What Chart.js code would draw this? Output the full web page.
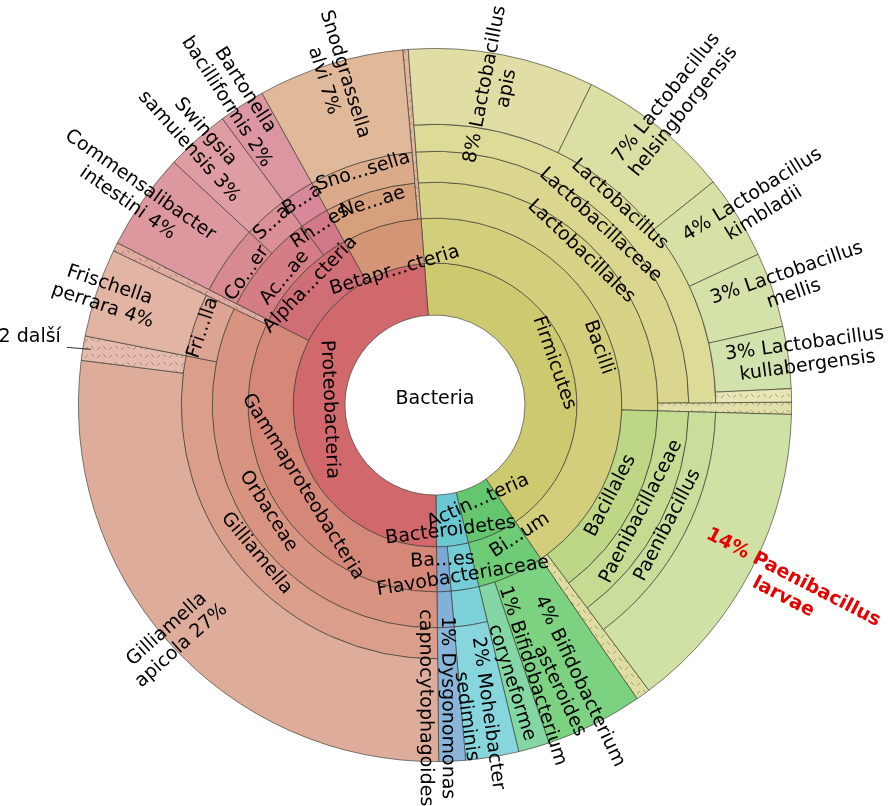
<!DOCTYPE html>
<html lang="cs">
<head>
<meta charset="UTF-8">
<title>Bacteria</title>
<script src="https://cdn.jsdelivr.net/npm/chart.js@4"></script>
<style>
  html, body { margin: 0; padding: 0; background: #fff; }
  #wrap { width: 891px; height: 806px; position: relative; }
</style>
</head>
<body>
<div id="wrap"><canvas id="krona"></canvas></div>
<script>
// leaves clockwise from the top, "další" = hatched remainder of the parent
const leafPaths = [
  'Firmicutes/Bacilli/Lactobacillales/Lactobacillaceae/Lactobacillus/Lactobacillus apis',
  'Firmicutes/Bacilli/Lactobacillales/Lactobacillaceae/Lactobacillus/Lactobacillus helsingborgensis',
  'Firmicutes/Bacilli/Lactobacillales/Lactobacillaceae/Lactobacillus/Lactobacillus kimbladii',
  'Firmicutes/Bacilli/Lactobacillales/Lactobacillaceae/Lactobacillus/Lactobacillus mellis',
  'Firmicutes/Bacilli/Lactobacillales/Lactobacillaceae/Lactobacillus/Lactobacillus kullabergensis',
  'Firmicutes/Bacilli/Lactobacillales/Lactobacillaceae/Lactobacillus/další Lactobacillus',
  'Firmicutes/Bacilli/Lactobacillales/další Lactobacillales',
  'Firmicutes/Bacilli/Bacillales/Paenibacillaceae/Paenibacillus/Paenibacillus larvae',
  'Firmicutes/Bacilli/další Bacilli',
  'Actinobacteria/Bifidobacterium/Bifidobacterium asteroides',
  'Actinobacteria/Bifidobacterium/Bifidobacterium coryneforme',
  'Bacteroidetes/Flavobacteriaceae/Moheibacter/Moheibacter sediminis',
  'Bacteroidetes/Bacteroidales/Dysgonomonadaceae/Dysgonomonas capnocytophagoides',
  'Proteobacteria/Gammaproteobacteria/Orbaceae/Gilliamella/Gilliamella apicola',
  'Proteobacteria/Gammaproteobacteria/Orbaceae/Gilliamella/další Gilliamella',
  'Proteobacteria/Gammaproteobacteria/Orbaceae/Frischella/Frischella perrara',
  'Proteobacteria/Gammaproteobacteria/další Gammaproteobacteria',
  'Proteobacteria/Alphaproteobacteria/Acetobacteraceae/Commensalibacter/Commensalibacter intestini',
  'Proteobacteria/Alphaproteobacteria/Acetobacteraceae/Swingsia/Swingsia samuiensis',
  'Proteobacteria/Alphaproteobacteria/Rhizobiales/Bartonella/Bartonella bacilliformis',
  'Proteobacteria/Betaproteobacteria/Neisseriaceae/Snodgrassella/Snodgrassella alvi',
  'Proteobacteria/Betaproteobacteria/další Betaproteobacteria'
];
// share of reads, %
const leafValues = [8.4, 7.0, 3.8, 3.4, 2.8, 0.6, 0.55, 14.3, 0.65, 4.4, 1.4, 2.4, 1.2,
                    27.1, 1.1, 4.0, 0.4, 4.4, 2.9, 2.1, 6.6, 0.25];

const shortLabels = {
  Actinobacteria: 'Actin...teria', Bifidobacterium: 'Bi...um', Bacteroidales: 'Ba...es',
  Alphaproteobacteria: 'Alpha...cteria', Betaproteobacteria: 'Betapr...cteria',
  Acetobacteraceae: 'Ac...ae', Rhizobiales: 'Rh...es', Neisseriaceae: 'Ne...ae',
  Commensalibacter: 'Co...er', Swingsia: 'S...a', Bartonella: 'B...a',
  Snodgrassella: 'Sno...sella', Frischella: 'Fri...lla'
};
const hiddenLabels = ['Moheibacter', 'Dysgonomonadaceae'];
const othersLabel = { 'další Gilliamella': '2 další' };
const highlighted = ['Paenibacillus larvae'];

// ---- styles / layout ----
const nodeColors = {
  Firmicutes: '#cdc96e', Bacilli: '#d2ce7c', Lactobacillales: '#d6d286', Lactobacillaceae: '#dad690',
  Lactobacillus: '#dddb98', 'Lactobacillus apis': '#e1dea5', 'Lactobacillus helsingborgensis': '#dcdfa3',
  'Lactobacillus kimbladii': '#d7e0a5', 'Lactobacillus mellis': '#d4e1a8', 'Lactobacillus kullabergensis': '#d2e2ac',
  Bacillales: '#bed787', Paenibacillaceae: '#c4db91', Paenibacillus: '#c9de9b', 'Paenibacillus larvae': '#cfe1a5',
  Actinobacteria: '#64c66e', Bifidobacterium: '#6ecc76', 'Bifidobacterium asteroides': '#7dd282',
  'Bifidobacterium coryneforme': '#84d6a4',
  Bacteroidetes: '#69c8d2', Flavobacteriaceae: '#73ccd6', Moheibacter: '#7dd2da', 'Moheibacter sediminis': '#87d6de',
  Bacteroidales: '#7daad2', Dysgonomonadaceae: '#83b0d6', 'Dysgonomonas capnocytophagoides': '#89b5da',
  Proteobacteria: '#d0686c', Gammaproteobacteria: '#d58778', Orbaceae: '#d89480', Gilliamella: '#da9e8a',
  'Gilliamella apicola': '#deac9b', Frischella: '#dca492', 'Frischella perrara': '#e1b4a3',
  Alphaproteobacteria: '#d06e76', Acetobacteraceae: '#d47d84', Commensalibacter: '#d88a91',
  'Commensalibacter intestini': '#dc989e', Swingsia: '#da8e96', 'Swingsia samuiensis': '#de9ca3',
  Rhizobiales: '#d27888', Bartonella: '#d88898', 'Bartonella bacilliformis': '#dc96a2',
  Betaproteobacteria: '#d49676', Neisseriaceae: '#d7a07d', Snodgrassella: '#daaa8a', 'Snodgrassella alvi': '#e0b99b'
};
const ringWidths = [52, 45, 36, 31, 27, 76];   // depth 1..6, px
const holeRadius = 90;
const startAngle = -4.3;
const FONT = '19px "DejaVu Sans"';
const LINE = 22;
// radial position of leaf labels, as share of the outer radius
const leafLabelRadius = {
  'Gilliamella apicola': 0.98, 'Frischella perrara': 0.972, 'Commensalibacter intestini': 1.031,
  'Swingsia samuiensis': 1.0, 'Bartonella bacilliformis': 1.031, 'Snodgrassella alvi': 0.961,
  'Lactobacillus apis': 0.91, 'Lactobacillus helsingborgensis': 1.078, 'Lactobacillus kimbladii': 1.067,
  'Lactobacillus mellis': 1.053, 'Lactobacillus kullabergensis': 1.05, 'Paenibacillus larvae': 1.115,
  'Bifidobacterium asteroides': 0.874, 'Bifidobacterium coryneforme': 0.807,
  'Moheibacter sediminis': 0.877, 'Dysgonomonas capnocytophagoides': 0.849
};
// small angular shifts (degrees) where labels crowd
const leafLabelTurn = {
  'Moheibacter sediminis': 1.5, 'Dysgonomonas capnocytophagoides': 2.5,
  'Bifidobacterium asteroides': 1, 'Bifidobacterium coryneforme': -1.5
};
const labelNudge = {
  Betaproteobacteria: { dr: -33 }, Bacteroidetes: { dr: 21 }, Flavobacteriaceae: { dr: 18 },
  Bifidobacterium: { da: -9 }, Commensalibacter: { dr: -15 }, Acetobacteraceae: { dr: -15 }
};

// ---- build the tree ----
const root = { name: 'Bacteria', depth: 0, value: 0, children: [] };
const byPath = {};
leafPaths.forEach((p, i) => {
  let node = root, key = '';
  p.split('/').forEach((name, d) => {
    key += '/' + name;
    let child = byPath[key];
    if (!child) {
      child = { name, depth: d + 1, value: 0, children: [], parent: node };
      byPath[key] = child;
      node.children.push(child);
    }
    child.value += leafValues[i];
    node = child;
  });
});
const total = leafValues.reduce((a, b) => a + b, 0);

function collect(node, depth, out) {
  if (node.depth === depth) { out.push(node); return; }
  if (!node.children.length) { out.push({ spacer: true, value: node.value }); return; }
  node.children.forEach(c => collect(c, depth, out));
}

function lighten(hex, t) {
  const n = parseInt(hex.slice(1), 16);
  const ch = [n >> 16, (n >> 8) & 255, n & 255].map(v => Math.round(v + (255 - v) * t));
  return `rgb(${ch[0]},${ch[1]},${ch[2]})`;
}

function hatch(base) {
  const c = document.createElement('canvas');
  c.width = 12; c.height = 8;
  const g = c.getContext('2d');
  g.fillStyle = base; g.fillRect(0, 0, 12, 8);
  g.strokeStyle = 'rgba(70,70,50,0.6)'; g.lineWidth = 0.7;
  g.beginPath();
  g.moveTo(1, 6); g.lineTo(4, 3);
  g.moveTo(7, 2); g.lineTo(10, 5);
  g.stroke();
  return g.createPattern(c, 'repeat');
}

function fillFor(n) {
  if (n.name.startsWith('další')) return hatch(lighten(nodeColors[n.parent.name], 0.3));
  return nodeColors[n.name];
}

// dataset 0 is the outer ring in Chart.js
const ringNodes = [];
const datasets = [];
for (let d = 6; d >= 1; d--) {
  const entries = [];
  collect(root, d, entries);
  ringNodes.push(entries);
  datasets.push({
    data: entries.map(e => e.value),
    backgroundColor: entries.map(e => e.spacer ? 'rgba(0,0,0,0)' : fillFor(e)),
    borderWidth: entries.map(e => e.spacer ? 0 : 0.8),
    borderColor: 'rgba(55,55,45,0.8)',
    weight: ringWidths[d - 1]
  });
}

// leaves run out to the rim, like Krona does
const extendLeaves = {
  id: 'extendLeaves',
  beforeDatasetsDraw(chart) {
    const outer = chart.getDatasetMeta(0).controller.outerRadius;
    ringNodes.forEach((nodes, ds) => {
      const arcs = chart.getDatasetMeta(ds).data;
      nodes.forEach((n, i) => {
        if (!n.spacer && !n.children.length) arcs[i].outerRadius = outer;
      });
    });
  }
};

function midAngle(el, extraDeg) {
  const phi = (el.startAngle + el.endAngle) / 2 + (extraDeg || 0) * Math.PI / 180;
  const theta = ((phi * 180 / Math.PI + 90) % 360 + 360) % 360;
  return { phi, theta };
}

function drawTangential(ctx, n, el) {
  if (hiddenLabels.includes(n.name)) return;
  const nudge = labelNudge[n.name] || {};
  const { phi, theta } = midAngle(el, nudge.da);
  const top = theta < 90 || theta > 270;
  const w = el.outerRadius - el.innerRadius;
  const r = (el.innerRadius + el.outerRadius) / 2 + (top ? 1 : -1) * 0.2 * w + (nudge.dr || 0);
  ctx.save();
  ctx.translate(el.x + r * Math.cos(phi), el.y + r * Math.sin(phi));
  ctx.rotate(top ? phi + Math.PI / 2 : phi - Math.PI / 2);
  ctx.font = FONT;
  ctx.textAlign = 'center';
  ctx.textBaseline = 'middle';
  ctx.fillStyle = '#000';
  ctx.fillText(shortLabels[n.name] || n.name, 0, 0);
  ctx.restore();
}

function drawOthers(ctx, n, el, R) {
  const text = othersLabel[n.name];
  if (!text) return;
  const { phi } = midAngle(el);
  const x1 = el.x + (R - 8) * Math.cos(phi), y1 = el.y + (R - 8) * Math.sin(phi);
  const x0 = x1 - 24, y0 = y1 - 2;
  ctx.save();
  ctx.strokeStyle = '#333'; ctx.lineWidth = 1;
  ctx.beginPath(); ctx.moveTo(x0, y0); ctx.lineTo(x1, y1); ctx.stroke();
  ctx.font = FONT; ctx.fillStyle = '#000';
  ctx.textAlign = 'right'; ctx.textBaseline = 'alphabetic';
  ctx.fillText(text, x0 - 6, y0 - 5);
  ctx.restore();
}

function drawLeaf(ctx, n, el, R) {
  if (n.name.startsWith('další')) { drawOthers(ctx, n, el, R); return; }
  const { phi, theta } = midAngle(el, leafLabelTurn[n.name]);
  const right = theta < 180;
  const pct = Math.round(n.value / total * 100) + '%';
  const words = n.name.split(' ');
  const genus = words[0], species = words.slice(1).join(' ');
  const lines = right ? [pct + ' ' + genus, species] : [genus, species + ' ' + pct];
  const r = (leafLabelRadius[n.name] || 1.03) * R;
  const hot = highlighted.includes(n.name);
  ctx.save();
  ctx.translate(el.x + r * Math.cos(phi), el.y + r * Math.sin(phi));
  ctx.rotate(right ? phi : phi + Math.PI);
  ctx.font = hot ? 'bold 19px "DejaVu Sans"' : FONT;
  ctx.fillStyle = hot ? '#e60000' : '#000';
  ctx.textAlign = 'center';
  ctx.textBaseline = 'middle';
  lines.forEach((t, k) => ctx.fillText(t, 0, (k - (lines.length - 1) / 2) * LINE));
  ctx.restore();
}

const kronaLabels = {
  id: 'kronaLabels',
  afterDatasetsDraw(chart) {
    const ctx = chart.ctx;
    const meta0 = chart.getDatasetMeta(0);
    const R = meta0.controller.outerRadius;
    ringNodes.forEach((nodes, ds) => {
      const arcs = chart.getDatasetMeta(ds).data;
      nodes.forEach((n, i) => {
        if (n.spacer) return;
        if (n.children.length) drawTangential(ctx, n, arcs[i]);
        else drawLeaf(ctx, n, arcs[i], R);
      });
    });
    const c = meta0.data[0];
    ctx.save();
    ctx.font = FONT; ctx.fillStyle = '#000';
    ctx.textAlign = 'center'; ctx.textBaseline = 'middle';
    ctx.fillText(root.name, c.x, c.y - 6);
    ctx.restore();
  }
};

new Chart(document.getElementById('krona'), {
  type: 'doughnut',
  data: { labels: ringNodes[0].map(e => e.name || ''), datasets },
  options: {
    responsive: true,
    maintainAspectRatio: false,
    animation: false,
    events: [],
    rotation: startAngle,
    cutout: holeRadius,
    layout: { padding: { left: 78, top: 48, right: 99, bottom: 44 } },
    plugins: { legend: { display: false }, tooltip: { enabled: false } }
  },
  plugins: [extendLeaves, kronaLabels]
});
</script>
</body>
</html>
